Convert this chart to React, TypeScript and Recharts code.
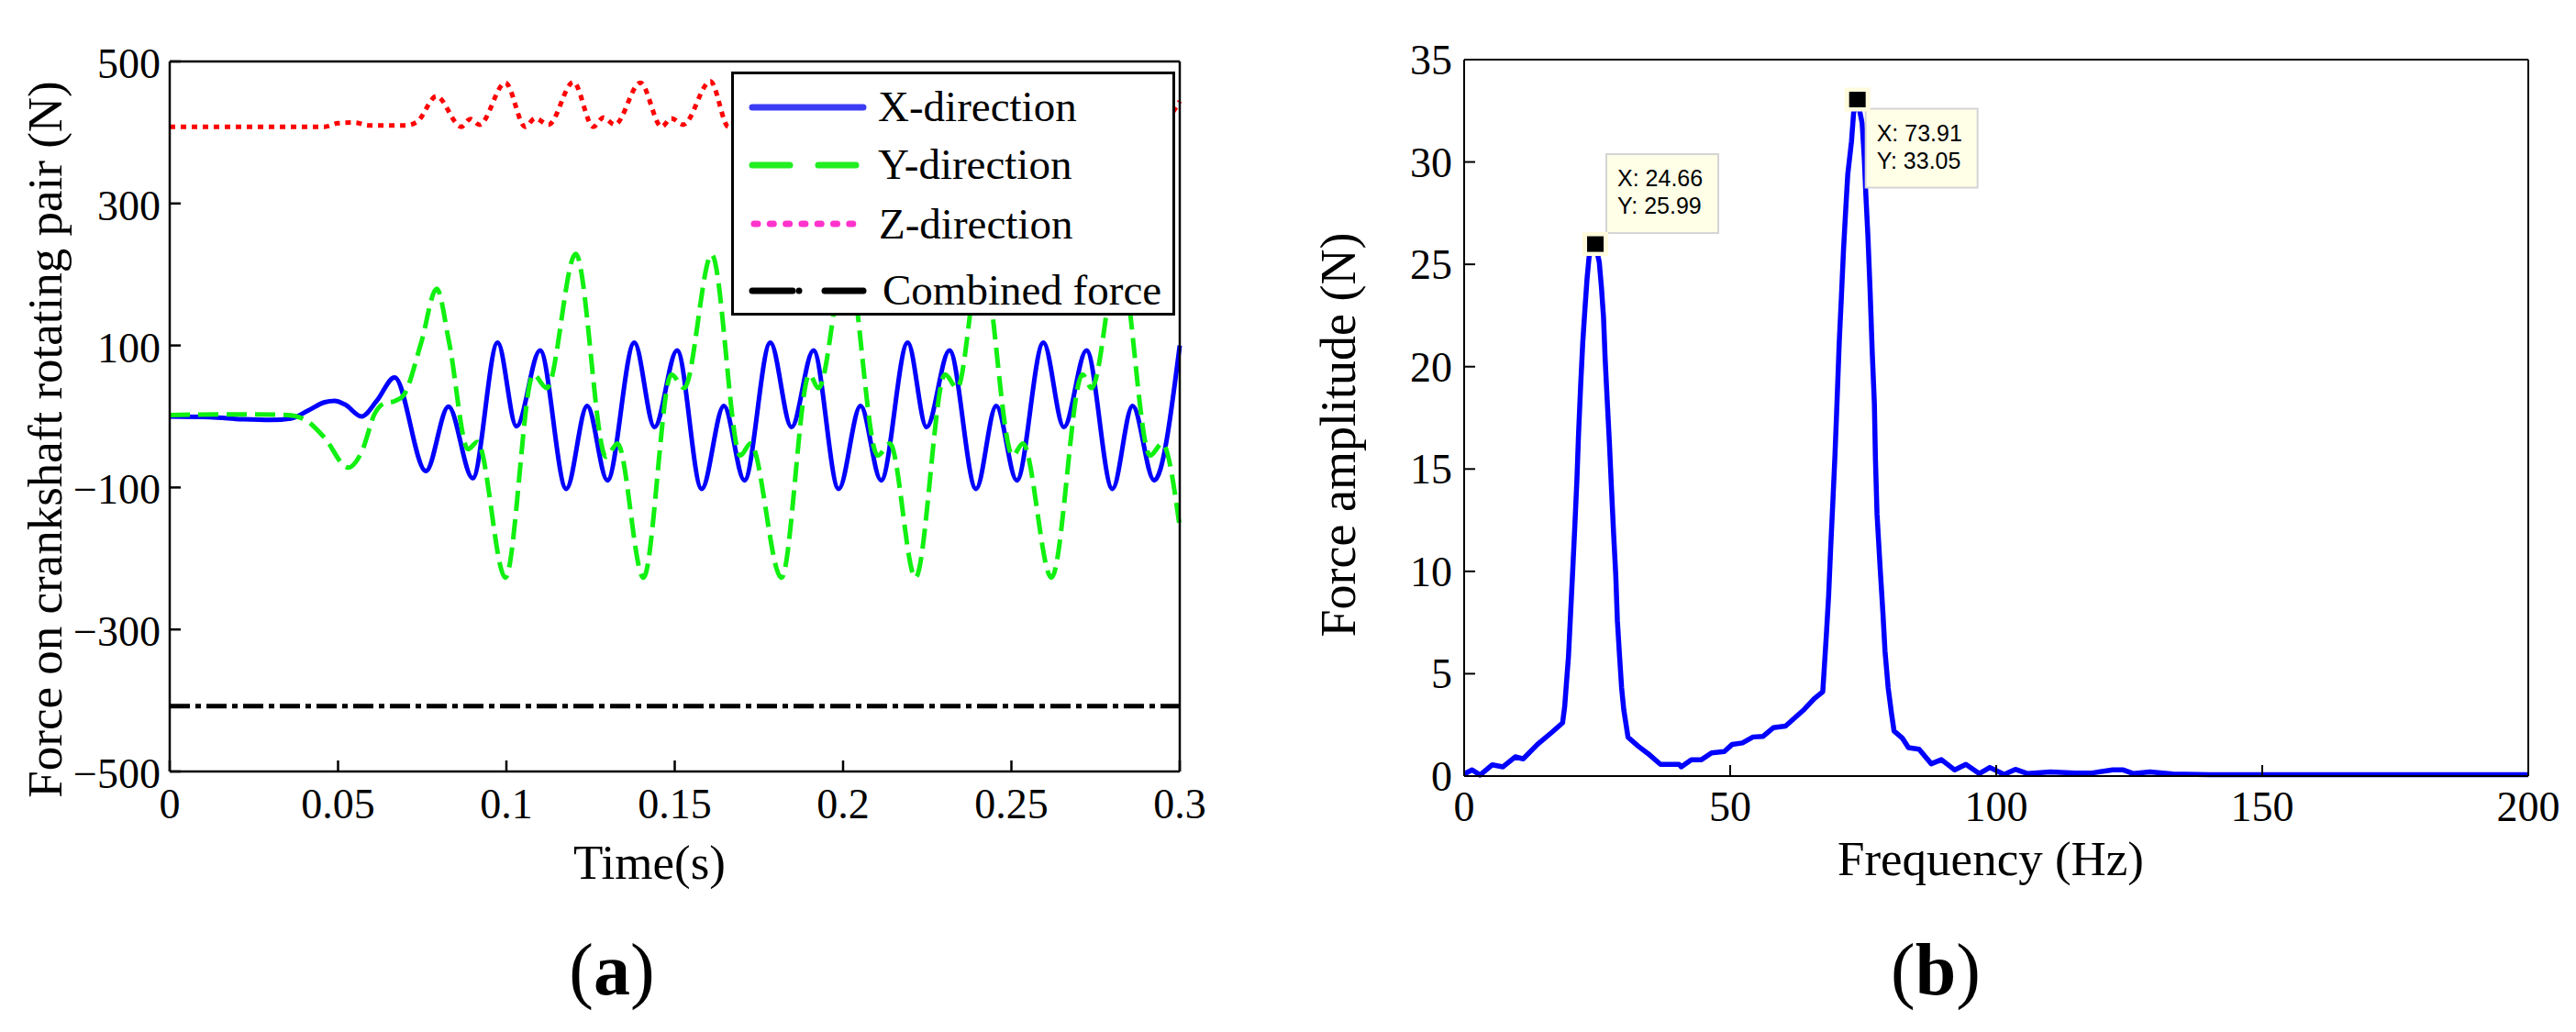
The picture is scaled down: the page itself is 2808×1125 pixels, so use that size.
import React from "react";
import { Legend, Line, LineChart, ReferenceDot, XAxis, YAxis } from "recharts";

// (a) forces on the crankshaft rotating pair, 0–0.3 s
const TIME_TICKS = [0, 0.05, 0.1, 0.15, 0.2, 0.25, 0.3];
const FORCE_TICKS = [-500, -300, -100, 100, 300, 500];
const SERIES_NAMES = ["X-direction", "Y-direction", "Z-direction", "Combined force"];

// [t (s), F (N)] at turning points
const X_DIR: [number, number][] = [
  [0, 0], [0.012, -1], [0.022, -4], [0.03, -5], [0.036, -3], [0.041, 8], [0.046, 20],
  [0.049, 22], [0.052, 17], [0.057, 0], [0.0615, 22], [0.0668, 55], [0.0761, -77],
  [0.0828, 14], [0.09, -87], [0.0974, 104], [0.103, -14], [0.11, 93], [0.1178, -102],
  [0.124, 15], [0.13, -90], [0.138, 104], [0.144, -15], [0.1507, 93], [0.158, -102],
  [0.1646, 15], [0.1707, -90], [0.1784, 104], [0.1847, -15], [0.1912, 93], [0.1987, -102],
  [0.2052, 15], [0.2113, -90], [0.2192, 104], [0.2248, -15], [0.2316, 93], [0.2395, -102],
  [0.2455, 15], [0.2516, -90], [0.2595, 104], [0.2656, -15], [0.2723, 93], [0.28, -102],
  [0.286, 15], [0.2924, -90], [0.3, 100],
];

const Y_DIR: [number, number][] = [
  [0, 2], [0.02, 3], [0.035, 2], [0.04, -4], [0.046, -30], [0.053, -72], [0.057, -50],
  [0.061, 5], [0.0635, 18], [0.067, 22], [0.0695, 30], [0.0747, 104], [0.0793, 180],
  [0.083, 104], [0.0886, -46], [0.0914, -36], [0.0997, -227], [0.108, 59], [0.112, 40],
  [0.1206, 229], [0.1296, -57], [0.133, -38], [0.1407, -227], [0.149, 59], [0.1528, 40],
  [0.161, 228], [0.1695, -55], [0.1725, -38], [0.1817, -227], [0.19, 59], [0.1927, 40],
  [0.201, 228], [0.2103, -55], [0.2139, -38], [0.2215, -227], [0.2303, 59], [0.2339, 40],
  [0.241, 228], [0.2504, -55], [0.2534, -38], [0.2619, -227], [0.2711, 59], [0.2738, 40],
  [0.282, 228], [0.2912, -55], [0.2948, -38], [0.3, -156],
];

const Z_DIR: [number, number][] = [
  [0, 408], [0.046, 408], [0.05, 413], [0.055, 414], [0.059, 410], [0.07, 410], [0.0735, 415],
  [0.0792, 451], [0.0866, 408], [0.0893, 419], [0.092, 411], [0.0997, 470], [0.1056, 408],
  [0.1085, 420], [0.1125, 411], [0.1199, 471], [0.1258, 408], [0.1288, 421], [0.1322, 411],
  [0.1398, 470], [0.1461, 408], [0.149, 420], [0.1525, 411], [0.1606, 472], [0.166, 408],
  [0.169, 420], [0.1725, 411], [0.1808, 471], [0.1862, 408], [0.1892, 420], [0.1927, 411],
  [0.201, 471], [0.2064, 408], [0.2094, 420], [0.2129, 411], [0.2212, 471], [0.2266, 408],
  [0.2296, 420], [0.2331, 411], [0.2414, 471], [0.2468, 408], [0.2498, 420], [0.2533, 411],
  [0.2616, 471], [0.267, 408], [0.27, 420], [0.2735, 411], [0.2818, 471], [0.2872, 408],
  [0.2902, 420], [0.2937, 411], [0.3, 444],
];

const COMBINED: [number, number][] = [[0, -408], [0.3, -408]];

// (b) amplitude spectrum
const FREQ_TICKS = [0, 50, 100, 150, 200];
const AMP_TICKS = [0, 5, 10, 15, 20, 25, 30, 35];

// [f (Hz), amplitude (N)]
const SPECTRUM: [number, number][] = [
  [0, 0.1], [1.5, 0.3], [3, 0.05], [5.3, 0.55], [7.3, 0.45], [9.6, 0.94], [11.1, 0.84],
  [13.8, 1.55], [16.5, 2.14], [18.5, 2.6], [18.9, 3.4], [19.2, 4.45], [19.6, 5.8], [20, 7.9],
  [20.4, 10], [20.8, 12.2], [21.2, 14.5], [21.5, 16.7], [21.9, 19.1], [22.3, 21.2], [22.7, 22.8],
  [23.1, 24.3], [23.5, 25.4], [24.66, 25.99], [25.4, 25.1], [25.8, 23.9], [26.2, 22.4],
  [26.5, 20.4], [26.9, 18.3], [27.3, 16.3], [27.7, 14], [28.1, 11.8], [28.5, 9.8], [28.8, 7.6],
  [29.2, 5.9], [29.6, 4.3], [30, 3.25], [30.8, 1.9], [32.7, 1.46], [34.6, 1.09], [36.9, 0.57],
  [40.4, 0.57], [40.8, 0.45], [42.7, 0.8], [44.6, 0.8], [46.5, 1.13], [48.9, 1.2], [50.4, 1.55],
  [52.3, 1.62], [54.3, 1.91], [56.2, 1.94], [58.1, 2.36], [60.4, 2.44], [62, 2.81], [63.9, 3.25],
  [65.8, 3.78], [67.4, 4.12], [67.7, 5.34], [68.1, 7], [68.5, 8.8], [68.9, 11.2], [69.3, 13.4],
  [69.7, 15.7], [70.1, 18.4], [70.5, 21.2], [70.9, 23.4], [71.3, 25.7], [71.7, 27.6],
  [72.1, 29.4], [72.8, 31], [73.2, 32.4], [73.91, 33.05], [74.8, 31.9], [75.2, 30.2],
  [75.5, 28.4], [75.9, 26.3], [76.3, 23.7], [76.7, 20.7], [77.1, 18.2], [77.3, 15.5],
  [77.6, 12.8], [78.2, 10.1], [78.7, 8], [79.1, 6.1], [79.7, 4.3], [80.3, 3.1], [80.8, 2.2],
  [82.4, 1.84], [83.5, 1.39], [85.5, 1.31], [87.8, 0.6], [89.7, 0.8], [92.2, 0.3], [94.3, 0.57],
  [96.8, 0.12], [98.8, 0.42], [101.5, 0.08], [103.6, 0.33], [105.9, 0.12], [110.2, 0.2],
  [114.9, 0.15], [118, 0.15], [121.9, 0.3], [123.9, 0.3], [125.8, 0.12], [128.9, 0.2],
  [133.2, 0.1], [140, 0.07], [200, 0.07],
];

// data-tip markers
const PEAKS = [
  { f: 24.66, a: 25.99 },
  { f: 73.91, a: 33.05 },
];

const SERIF = "'Liberation Serif', 'Times New Roman', serif";
const SANS = "'Liberation Sans', Arial, sans-serif";
const TICK_LEN = 12;

const toPts = (rows: [number, number][]) => rows.map(([t, v]) => ({ t, v }));

const fmtForce = (v: number) => (v < 0 ? `\u2212${Math.abs(v)}` : String(v));
const fmtPlain = (v: number) => String(v);

// MATLAB-style inward ticks; labels drawn here so they sit exactly where we want
function bottomTick(fmt: (v: number) => string, sw: number, dy: number) {
  return (p: any) => (
    <g>
      <line x1={p.x} x2={p.x} y1={p.y} y2={p.y - TICK_LEN} stroke="#000" strokeWidth={sw} />
      <text x={p.x} y={p.y + dy} textAnchor="middle" fontFamily={SERIF} fontSize={46} fill="#000">
        {fmt(p.payload.value)}
      </text>
    </g>
  );
}

function topTick(sw: number) {
  return (p: any) => (
    <line x1={p.x} x2={p.x} y1={p.y} y2={p.y + TICK_LEN} stroke="#000" strokeWidth={sw} />
  );
}

function leftTick(fmt: (v: number) => string, sw: number, gap: number, dy: number) {
  return (p: any) => (
    <g>
      <line x1={p.x} x2={p.x + TICK_LEN} y1={p.y} y2={p.y} stroke="#000" strokeWidth={sw} />
      <text x={p.x - gap} y={p.y + dy} textAnchor="end" fontFamily={SERIF} fontSize={46} fill="#000">
        {fmt(p.payload.value)}
      </text>
    </g>
  );
}

function rightTick(sw: number) {
  return (p: any) => (
    <line x1={p.x} x2={p.x - TICK_LEN} y1={p.y} y2={p.y} stroke="#000" strokeWidth={sw} />
  );
}

function ForceLegend() {
  return (
    <svg width={484} height={266} style={{ display: "block" }}>
      <rect x={1.5} y={1.5} width={481} height={263} fill="#fff" stroke="#000" strokeWidth={3} />
      <line x1={23} x2={144} y1={39} y2={39} stroke="#3c3cf5" strokeWidth={7} strokeLinecap="round" />
      <line x1={23} x2={144} y1={102} y2={102} stroke="#22ee22" strokeWidth={7} strokeLinecap="round" strokeDasharray="41 31" />
      <line x1={25} x2={142} y1={166} y2={166} stroke="#ff33cc" strokeWidth={7} strokeLinecap="round" strokeDasharray="4 13.3" />
      <line x1={23} x2={67} y1={239} y2={239} stroke="#000" strokeWidth={7} strokeLinecap="round" />
      <line x1={74} x2={74} y1={239} y2={239} stroke="#000" strokeWidth={7} strokeLinecap="round" />
      <line x1={102} x2={144} y1={239} y2={239} stroke="#000" strokeWidth={7} strokeLinecap="round" />
      <g fontFamily={SERIF} fontSize={47} fill="#000">
        <text x={160} y={54}>{SERIES_NAMES[0]}</text>
        <text x={160} y={117}>{SERIES_NAMES[1]}</text>
        <text x={161} y={182}>{SERIES_NAMES[2]}</text>
        <text x={165} y={254}>{SERIES_NAMES[3]}</text>
      </g>
    </svg>
  );
}

// black square with a cream halo, plus the yellow data-tip box
function PeakTip({ cx, cy, f, a, below }: { cx: number; cy: number; f: number; a: number; below: boolean }) {
  const bx = cx + (below ? 9 : 12);
  const by = below ? cy + 10 : cy - 98;
  return (
    <g>
      <rect x={bx} y={by} width={122} height={86} fill="#ffffe8" stroke="#d4d4d4" strokeWidth={2} />
      <text x={bx + 12} y={by + 35} fontFamily={SANS} fontSize={25} fill="#000">{`X: ${f.toFixed(2)}`}</text>
      <text x={bx + 12} y={by + 65} fontFamily={SANS} fontSize={25} fill="#000">{`Y: ${a.toFixed(2)}`}</text>
      <rect x={cx - 14} y={cy - 13} width={28} height={26} fill="#fffbdc" />
      <rect x={cx - 9} y={cy - 8.5} width={18} height={17} fill="#000" />
    </g>
  );
}

function TimeHistory() {
  const AX = 2.5;
  return (
    <LineChart width={1400} height={1000} margin={{ top: 66, right: 113, bottom: 158, left: 184 }}>
      <XAxis
        type="number" dataKey="t" domain={[0, 0.3]} ticks={TIME_TICKS} interval={0}
        height={1} tickSize={0} tickMargin={0} tickLine={false}
        axisLine={{ stroke: "#000", strokeWidth: AX }} tick={bottomTick(fmtPlain, AX, 51)}
      />
      <XAxis
        xAxisId="top" orientation="top" type="number" dataKey="t" domain={[0, 0.3]} ticks={TIME_TICKS}
        interval={0} height={1} tickSize={0} tickMargin={0} tickLine={false}
        axisLine={{ stroke: "#000", strokeWidth: AX }} tick={topTick(AX)}
      />
      <YAxis
        type="number" domain={[-500, 500]} ticks={FORCE_TICKS} interval={0}
        width={1} tickSize={0} tickMargin={0} tickLine={false}
        axisLine={{ stroke: "#000", strokeWidth: AX }} tick={leftTick(fmtForce, AX, 10, 18)}
      />
      <YAxis
        yAxisId="right" orientation="right" type="number" domain={[-500, 500]} ticks={FORCE_TICKS}
        interval={0} width={1} tickSize={0} tickMargin={0} tickLine={false}
        axisLine={{ stroke: "#000", strokeWidth: AX }} tick={rightTick(AX)}
      />
      <Line
        name={SERIES_NAMES[0]} data={toPts(X_DIR)} dataKey="v" type="monotone" stroke="#0000ff"
        strokeWidth={5} dot={false} activeDot={false} isAnimationActive={false}
      />
      <Line
        name={SERIES_NAMES[1]} data={toPts(Y_DIR)} dataKey="v" type="monotone" stroke="#11f011"
        strokeWidth={5} strokeDasharray="22 9" dot={false} activeDot={false} isAnimationActive={false}
      />
      <Line
        name={SERIES_NAMES[2]} data={toPts(Z_DIR)} dataKey="v" type="monotone" stroke="#ff0000"
        strokeWidth={5} strokeDasharray="6 6" dot={false} activeDot={false} isAnimationActive={false}
      />
      <Line
        name={SERIES_NAMES[3]} data={toPts(COMBINED)} dataKey="v" type="linear" stroke="#000"
        strokeWidth={5} strokeDasharray="22 6 6 6" dot={false} activeDot={false} isAnimationActive={false}
      />
      <Legend
        layout="vertical" align="center" verticalAlign="middle" width={484} height={266}
        wrapperStyle={{ left: 797, top: 78, width: 484, height: 266, lineHeight: 0 }}
        content={() => <ForceLegend />}
      />
    </LineChart>
  );
}

function Spectrum() {
  const AX = 2;
  return (
    <LineChart width={1408} height={1000} margin={{ top: 64, right: 51, bottom: 153, left: 195 }}>
      <XAxis
        type="number" dataKey="t" domain={[0, 200]} ticks={FREQ_TICKS} interval={0}
        height={1} tickSize={0} tickMargin={0} tickLine={false}
        axisLine={{ stroke: "#000", strokeWidth: AX }} tick={bottomTick(fmtPlain, AX, 49)}
      />
      <XAxis
        xAxisId="top" orientation="top" type="number" dataKey="t" domain={[0, 200]} ticks={FREQ_TICKS}
        interval={0} height={1} tickSize={0} tickMargin={0} tickLine={false}
        axisLine={{ stroke: "#000", strokeWidth: AX }} tick={topTick(AX)}
      />
      <YAxis
        type="number" domain={[0, 35]} ticks={AMP_TICKS} interval={0}
        width={1} tickSize={0} tickMargin={0} tickLine={false}
        axisLine={{ stroke: "#000", strokeWidth: AX }} tick={leftTick(fmtPlain, AX, 13, 16)}
      />
      <YAxis
        yAxisId="right" orientation="right" type="number" domain={[0, 35]} ticks={AMP_TICKS}
        interval={0} width={1} tickSize={0} tickMargin={0} tickLine={false}
        axisLine={{ stroke: "#000", strokeWidth: AX }} tick={rightTick(AX)}
      />
      <Line
        data={toPts(SPECTRUM)} dataKey="v" type="linear" stroke="#0000ff" strokeWidth={5.5}
        strokeLinejoin="round" dot={false} activeDot={false} isAnimationActive={false}
      />
      {PEAKS.map((p, i) => (
        <ReferenceDot
          key={i} x={p.f} y={p.a} r={10}
          shape={(s: any) => <PeakTip cx={s.cx} cy={s.cy} f={p.f} a={p.a} below={i === 1} />}
        />
      ))}
    </LineChart>
  );
}

export default function App() {
  return (
    <div style={{ position: "absolute", left: 0, top: 0, width: 2808, height: 1125, background: "#fff", overflow: "hidden" }}>
      <div style={{ position: "absolute", left: 0, top: 0 }}>
        <TimeHistory />
      </div>
      <div style={{ position: "absolute", left: 1400, top: 0 }}>
        <Spectrum />
      </div>
      <svg width={2808} height={1125} style={{ position: "absolute", left: 0, top: 0, pointerEvents: "none" }}>
        <g fontFamily={SERIF} fill="#000">
          <text transform="translate(67,479) rotate(-90)" textAnchor="middle" fontSize={53}>
            Force on crankshaft rotating pair (N)
          </text>
          <text x={708} y={958} textAnchor="middle" fontSize={53}>Time(s)</text>
          <text x={667} y={1084} textAnchor="middle" fontSize={80}>
            (<tspan fontWeight="bold">a</tspan>)
          </text>
          <text transform="translate(1477,474) rotate(-90)" textAnchor="middle" fontSize={54}>
            Force amplitude (N)
          </text>
          <text x={2170} y={954} textAnchor="middle" fontSize={53}>Frequency (Hz)</text>
          <text x={2110} y={1084} textAnchor="middle" fontSize={80}>
            (<tspan fontWeight="bold">b</tspan>)
          </text>
        </g>
      </svg>
    </div>
  );
}
